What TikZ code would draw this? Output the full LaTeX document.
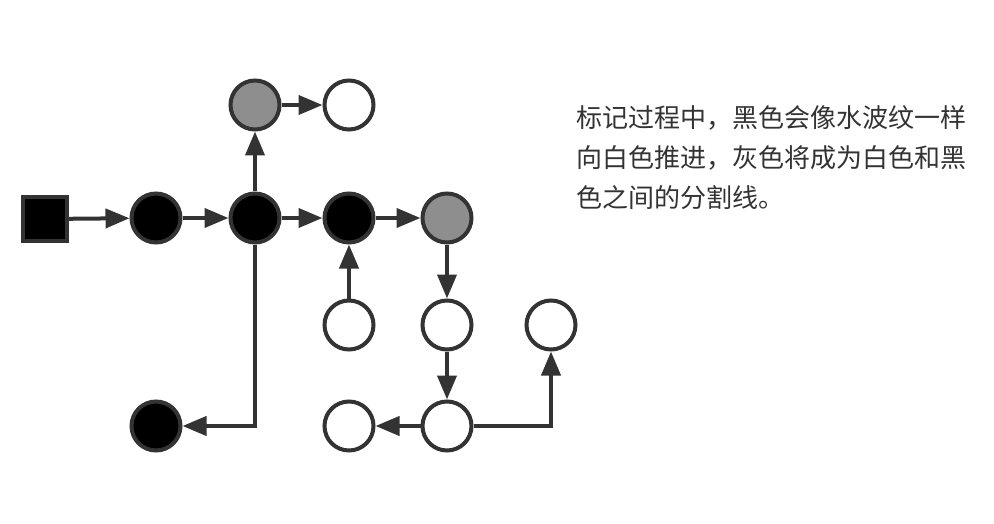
\documentclass[tikz,border=0pt]{standalone}
\usepackage{fontspec}
\newfontfamily\cjk{Noto Sans CJK SC}
\usetikzlibrary{arrows.meta}
\definecolor{edge}{HTML}{333333}
\definecolor{midgray}{HTML}{8E8E8E}
\begin{document}
\begin{tikzpicture}[x=1pt,y=-1pt,
  dot/.style={circle,draw=edge,line width=4pt,minimum size=49pt,inner sep=0pt},
  blk/.style={dot,fill=black},
  gry/.style={dot,fill=midgray},
  wht/.style={dot,fill=white},
  root/.style={rectangle,draw=edge,line width=4pt,fill=black,minimum size=44pt,inner sep=0pt},
  link/.style={draw=edge,line width=4pt,-{Triangle[length=24pt,width=19pt]}},
  txt/.style={anchor=west,inner sep=0pt,text=edge,font=\cjk\fontsize{26pt}{40pt}\selectfont}
]
\useasboundingbox (0,0) rectangle (994,524);
\node[root] (S) at (45,219) {};
\node[blk] (B1) at (156,218) {};
\node[blk] (B2) at (255,218) {};
\node[blk] (B3) at (349,218) {};
\node[gry] (G1) at (447,218) {};
\node[gry] (G2) at (255,105) {};
\node[wht] (W1) at (349,105) {};
\node[wht] (W2) at (349,325) {};
\node[wht] (W3) at (447,325) {};
\node[wht] (W4) at (551,325) {};
\node[blk] (B4) at (156,426) {};
\node[wht] (W5) at (349,426) {};
\node[wht] (W6) at (447,426) {};
\draw[link] (S) -- (B1);
\draw[link] (B1) -- (B2);
\draw[link] (B2) -- (B3);
\draw[link] (B3) -- (G1);
\draw[link] (B2) -- (G2);
\draw[link] (G2) -- (W1);
\draw[link] (B2) |- (B4);
\draw[link] (W2) -- (B3);
\draw[link] (G1) -- (W3);
\draw[link] (W3) -- (W6);
\draw[link] (W6) -- (W5);
\draw[link] (W6) -| (W4);
\node[txt] (t1) at (576,118) {标记过程中，黑色会像水波纹一样};
\node[txt] (t2) at (576,158) {向白色推进，灰色将成为白色和黑};
\node[txt] (t3) at (576,198) {色之间的分割线。};
\end{tikzpicture}
\end{document}
